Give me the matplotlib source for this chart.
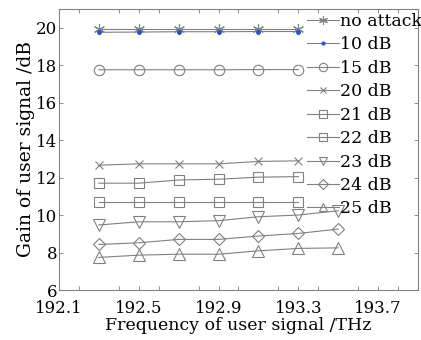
import matplotlib
matplotlib.use("Agg")
from matplotlib import pyplot as plt
from matplotlib.ticker import MultipleLocator
import numpy as np

plt.rcParams['font.family'] = ['DejaVu Serif']
plt.rcParams['mathtext.fontset'] = 'dejavuserif'

freq6 = np.array([192.3, 192.5, 192.7, 192.9, 193.1, 193.3])
freq7 = np.array([192.3, 192.5, 192.7, 192.9, 193.1, 193.3, 193.5])

no_attack = [19.92, 19.92, 19.92, 19.92, 19.92, 19.92]
db10 = [19.75, 19.76, 19.78, 19.78, 19.79, 19.79]
db15 = [17.75, 17.75, 17.75, 17.75, 17.76, 17.76]
db20 = [12.66, 12.73, 12.73, 12.73, 12.86, 12.89]
db21 = [11.70, 11.70, 11.87, 11.91, 12.02, 12.05]
db22 = [10.71, 10.71, 10.71, 10.71, 10.71, 10.71]
db23 = [9.47, 9.64, 9.64, 9.70, 9.91, 10.0, 10.23]
db24 = [8.43, 8.52, 8.70, 8.70, 8.88, 9.02, 9.25]
db25 = [7.74, 7.86, 7.91, 7.91, 8.09, 8.22, 8.25]

gray = '#808080'

fig = plt.figure(figsize=(4.21, 3.40), dpi=100)
ax = fig.add_axes([0.14, 0.147, 0.853, 0.827])

kw = dict(color=gray, lw=0.8, mfc='none', mec=gray, mew=0.8)
ax.plot(freq6, no_attack, marker=(6, 2, 0), ms=8, label='no attack', **kw)
ax.plot(freq6, db10, marker='.', ms=5, color=gray, lw=0.8, mfc='#2255cc', mec='#2255cc', label='10 dB')
ax.plot(freq6, db15, marker='o', ms=7.5, label='15 dB', **kw)
ax.plot(freq6, db20, marker='x', ms=6, label='20 dB', **kw)
ax.plot(freq6, db21, marker='s', ms=6.5, label='21 dB', **kw)
ax.plot(freq6, db22, marker='s', ms=6.5, label='22 dB', **kw)
ax.plot(freq7, db23, marker='v', ms=8, label='23 dB', **kw)
ax.plot(freq7, db24, marker='D', ms=6.5, label='24 dB', **kw)
ax.plot(freq7, db25, marker='^', ms=8, label='25 dB', **kw)

ax.set_xlim(192.1, 193.9)
ax.set_ylim(6, 21)
ax.xaxis.set_minor_locator(MultipleLocator(0.2))
ax.yaxis.set_major_locator(MultipleLocator(2))
ax.set_xticks([192.1, 192.5, 192.9, 193.3, 193.7])
ax.tick_params(which='both', direction='in', top=True, right=True,
               length=3, width=0.6, color=gray, labelsize=12)
ax.tick_params(axis='x', pad=7)
ax.tick_params(axis='y', pad=1)
for s in ax.spines.values():
    s.set_color(gray)
    s.set_linewidth(0.8)

ax.set_xlabel('Frequency of user signal /THz', fontsize=12.5, labelpad=0)
ax.set_ylabel('Gain of user signal /dB', fontsize=13.5, labelpad=1)

ax.legend(loc='upper right', bbox_to_anchor=(1.012, 0.985), frameon=False, fontsize=12.5,
          handlelength=1.9, handletextpad=0.05, labelspacing=0.37, borderpad=0,
          borderaxespad=0, markerscale=0.8)

fig.savefig('out.png', dpi=100)
